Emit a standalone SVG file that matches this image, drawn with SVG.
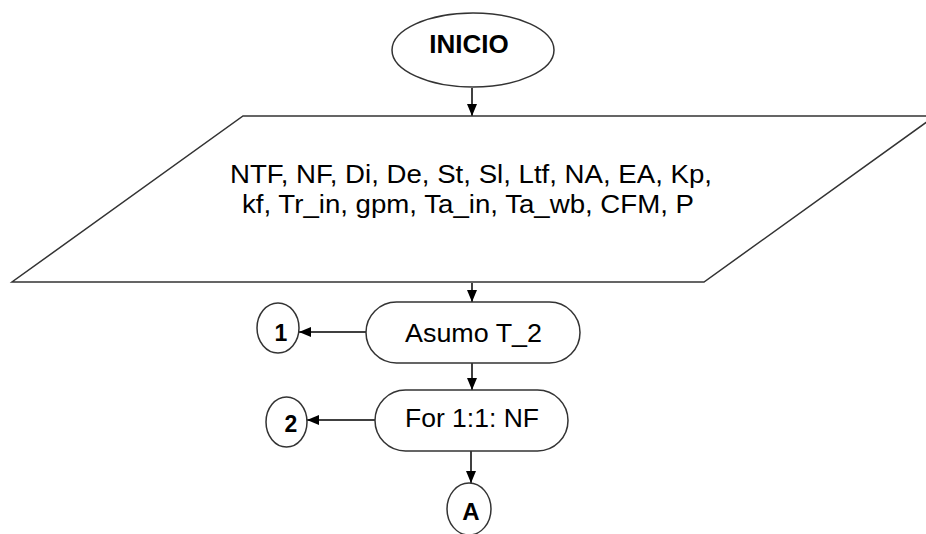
<svg xmlns="http://www.w3.org/2000/svg" width="926" height="534" viewBox="0 0 926 534">
  <defs>
    <marker id="arrow" markerWidth="13" markerHeight="12" refX="12" refY="5" orient="auto" markerUnits="userSpaceOnUse">
      <path d="M0,0 L12,5 L0,10 Z" fill="#000"/>
    </marker>
    <style>
      .shape { fill: #fff; stroke: #333; stroke-width: 1.5; }
      .link { fill: none; stroke: #000; stroke-width: 1.5; marker-end: url(#arrow); }
      .txt { font-family: "Liberation Sans", Arial, sans-serif; font-size: 25px; fill: #000; text-anchor: middle; }
      .bold { font-weight: bold; }
    </style>
  </defs>
  <rect width="926" height="534" fill="#fff"/>

  <!-- connectors -->
  <g id="connectors">
    <line class="link" x1="472" y1="88" x2="472" y2="116"/>
    <line class="link" x1="472" y1="283" x2="472" y2="302"/>
    <line class="link" x1="366" y1="332" x2="299" y2="332"/>
    <line class="link" x1="472" y1="363" x2="472" y2="390"/>
    <line class="link" x1="375" y1="420" x2="307" y2="420"/>
    <line class="link" x1="471" y1="451" x2="471" y2="483"/>
  </g>

  <!-- start terminal -->
  <g id="inicio">
    <ellipse class="shape" cx="473" cy="50" rx="81" ry="37"/>
    <text class="txt bold" x="469" y="53" style="font-size:26px">INICIO</text>
  </g>

  <!-- input data -->
  <g id="entrada">
    <polygon class="shape" points="243,116 935,116 704,282 12,282"/>
    <text class="txt" x="471" y="183" textLength="482" lengthAdjust="spacingAndGlyphs">NTF, NF, Di, De, St, Sl, Ltf, NA, EA, Kp,</text>
    <text class="txt" x="468" y="213" textLength="452" lengthAdjust="spacingAndGlyphs">kf, Tr_in, gpm, Ta_in, Ta_wb, CFM, P</text>
  </g>

  <!-- assume T_2 -->
  <g id="asumo">
    <rect class="shape" x="366" y="302" width="214" height="61" rx="30.5" ry="30.5"/>
    <text class="txt" x="473.5" y="342" textLength="137" lengthAdjust="spacingAndGlyphs">Asumo T_2</text>
  </g>

  <!-- loop -->
  <g id="for">
    <rect class="shape" x="375" y="390" width="193" height="61" rx="30.5" ry="30.5"/>
    <text class="txt" x="472" y="427" textLength="134" lengthAdjust="spacingAndGlyphs">For 1:1: NF</text>
  </g>

  <!-- connector 1 -->
  <g id="conector1">
    <ellipse class="shape" cx="278" cy="328" rx="21" ry="25"/>
    <text class="txt bold" x="281" y="341" style="font-size:23px">1</text>
  </g>

  <!-- connector 2 -->
  <g id="conector2">
    <ellipse class="shape" cx="286.5" cy="422" rx="20.5" ry="25"/>
    <text class="txt bold" x="291" y="432" style="font-size:23px">2</text>
  </g>

  <!-- connector A -->
  <g id="conectorA">
    <ellipse class="shape" cx="469" cy="509" rx="22" ry="26"/>
    <text class="txt bold" x="471" y="520" style="font-size:24px">A</text>
  </g>
</svg>
